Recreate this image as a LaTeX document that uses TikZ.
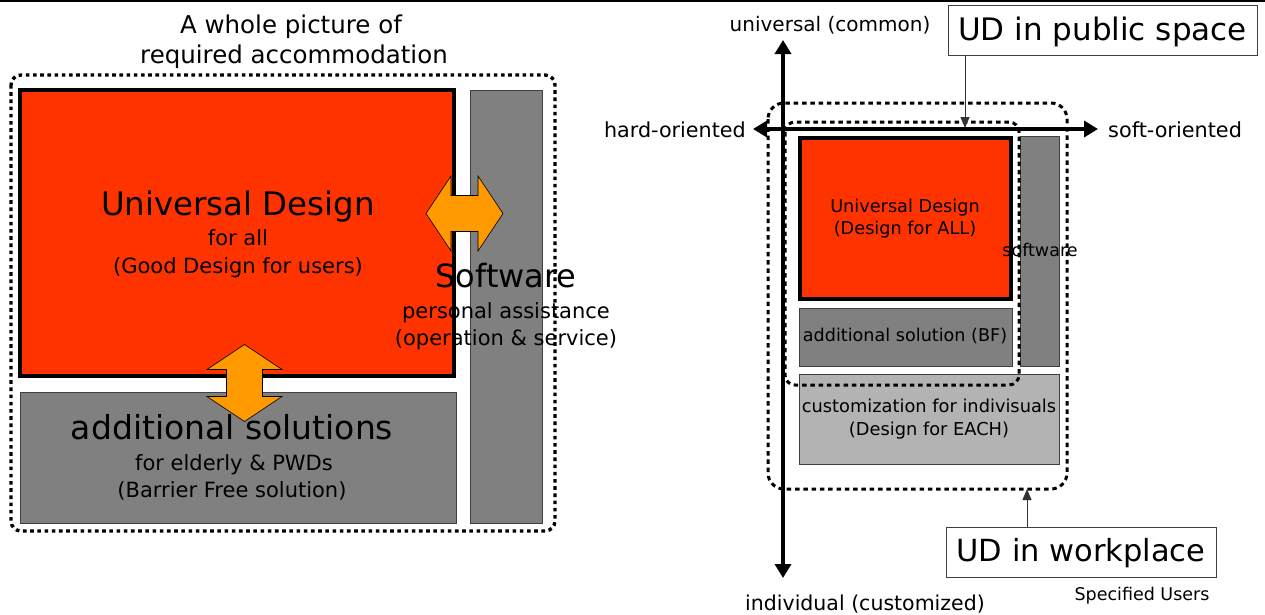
\documentclass[tikz,border=0pt]{standalone}
\usepackage{fontspec}
\setmainfont{DejaVu Sans}
\usetikzlibrary{arrows.meta,calc}
\definecolor{udred}{HTML}{FF3300}
\definecolor{udorange}{HTML}{FF9900}
\definecolor{midgray}{HTML}{808080}
\definecolor{lightgray}{HTML}{B3B3B3}
\definecolor{edgegray}{HTML}{404040}
\begin{document}
\begin{tikzpicture}[x=1pt,y=-1pt,
  txt/.style={inner sep=0pt,anchor=base,font=\fontsize{#1pt}{#1pt}\selectfont},
  box/.style={draw=edgegray,line width=1pt,inner sep=0pt,outer sep=0pt},
  udbox/.style={fill=udred,draw=black,line width=4pt,inner sep=0pt,outer sep=0pt},
  graybox/.style={box,fill=midgray},
  lightbox/.style={box,fill=lightgray},
  frameleft/.style={line width=3.4pt,dash pattern=on 3.6pt off 3.6pt,rounded corners=10pt},
  frameright/.style={line width=3pt,dash pattern=on 4.5pt off 3.8pt,rounded corners=#1},
  axis/.style={line width=4pt,{Triangle[length=14pt,width=16pt]}-{Triangle[length=14pt,width=16pt]}},
  callout/.style={draw=black!80,line width=0.9pt,-{Triangle[length=11pt,width=9pt]}},
  labelbox/.style={draw=edgegray,line width=1pt,fill=white,inner sep=0pt,outer sep=0pt},
  dbl/.pic={\draw[fill=udorange,draw=black,line width=0.6pt]
    (-38.5,0) -- (-13.5,-37.5) -- (-13.5,-18) -- (13.5,-18) -- (13.5,-37.5) -- (38.5,0)
    -- (13.5,37.5) -- (13.5,18) -- (-13.5,18) -- (-13.5,37.5) -- cycle;}
]
\useasboundingbox (0,0) rectangle (1265,614);
\draw[line width=2pt] (0,1) -- (1265,1);

% ---------- left: a whole picture of required accommodation ----------
\node[udbox,minimum width=434pt,minimum height=286pt] (ud) at (237,233) {};
\node[graybox,minimum width=72pt,minimum height=433pt] (soft) at (506,306.5) {};
\node[graybox,minimum width=436pt,minimum height=131pt] (addl) at (238,457.5) {};
\draw[frameleft] (11,75) rectangle (555,531);

\pic at (464.5,213.5) {dbl};
\pic[rotate=90] at (244.5,383) {dbl};

\node[txt=24.5] (title1) at (291,33) {A whole picture of};
\node[txt=24.5] (title2) at (294,63) {required accommodation};

\node[txt=32.4] (udtitle) at (238,215.5) {Universal Design};
\node[txt=21] (udsub1) at (238,245.5) {for all};
\node[txt=21] (udsub2) at (238,273.5) {(Good Design for users)};

\node[txt=32] (softtitle) at (506,287.5) {Software};
\node[txt=21] (softsub1) at (506,318.5) {personal assistance};
\node[txt=21] (softsub2) at (506,345.5) {(operation \& service)};

\node[txt=33] (addtitle) at (232,439.5) {additional solutions};
\node[txt=21] (addsub1) at (234,470.5) {for elderly \& PWDs};
\node[txt=21] (addsub2) at (232,497.5) {(Barrier Free solution)};

% ---------- right: hard/soft and universal/individual axes ----------
\node[udbox,minimum width=211pt,minimum height=161pt] (ud2) at (905.5,218.5) {};
\node[graybox,minimum width=39pt,minimum height=230pt] (soft2) at (1039.5,251) {};
\node[graybox,minimum width=213pt,minimum height=58pt] (add2) at (905.5,337) {};
\node[lightbox,minimum width=260pt,minimum height=90pt] (cust) at (929,419) {};

\draw[frameright=16pt] (768,103) rectangle (1067,489);
\draw[frameright=10pt] (785,122) rectangle (1019,385);

\coordinate (vtop) at (783,40);
\coordinate (vbot) at (783,578);
\coordinate (hleft) at (753,129);
\coordinate (hright) at (1098,129);
\draw[axis] (vbot) -- (vtop);
\draw[axis] (hleft) -- (hright);

\node[txt=20] (univ) at (830,31) {universal (common)};
\node[txt=20.5] (indiv) at (865,610) {individual (customized)};
\node[txt=20.7,anchor=base east] (hard) at (746,137) {hard-oriented};
\node[txt=20.8,anchor=base west] (softor) at (1108,137) {soft-oriented};

\node[txt=17.7] (ud2a) at (905,212.5) {Universal Design};
\node[txt=17.7] (ud2b) at (905,234) {(Design for ALL)};
\node[txt=17.5] (soft2t) at (1040,256) {software};
\node[txt=17.6] (add2t) at (905,341.5) {additional solution (BF)};
\node[txt=17.8] (cust1) at (929,412) {customization for indivisuals};
\node[txt=17.8] (cust2) at (929,435) {(Design for EACH)};

\node[labelbox,minimum width=309pt,minimum height=50pt,
      font=\fontsize{31pt}{31pt}\selectfont,text height=23pt,text depth=2pt]
  (pub) at (1102.5,30) {UD in public space};
\node[labelbox,minimum width=270pt,minimum height=50pt,
      font=\fontsize{30.5pt}{30.5pt}\selectfont,text height=22pt,text depth=4pt]
  (work) at (1081,552) {UD in workplace};
\node[txt=17.5] (spec) at (1142,600.5) {Specified Users};

\coordinate (pubtip) at (965,128);
\coordinate (worktip) at (1027,489);
\draw[callout] (pub.south -| pubtip) -- (pubtip);
\draw[callout] (work.north -| worktip) -- (worktip);
\end{tikzpicture}
\end{document}
